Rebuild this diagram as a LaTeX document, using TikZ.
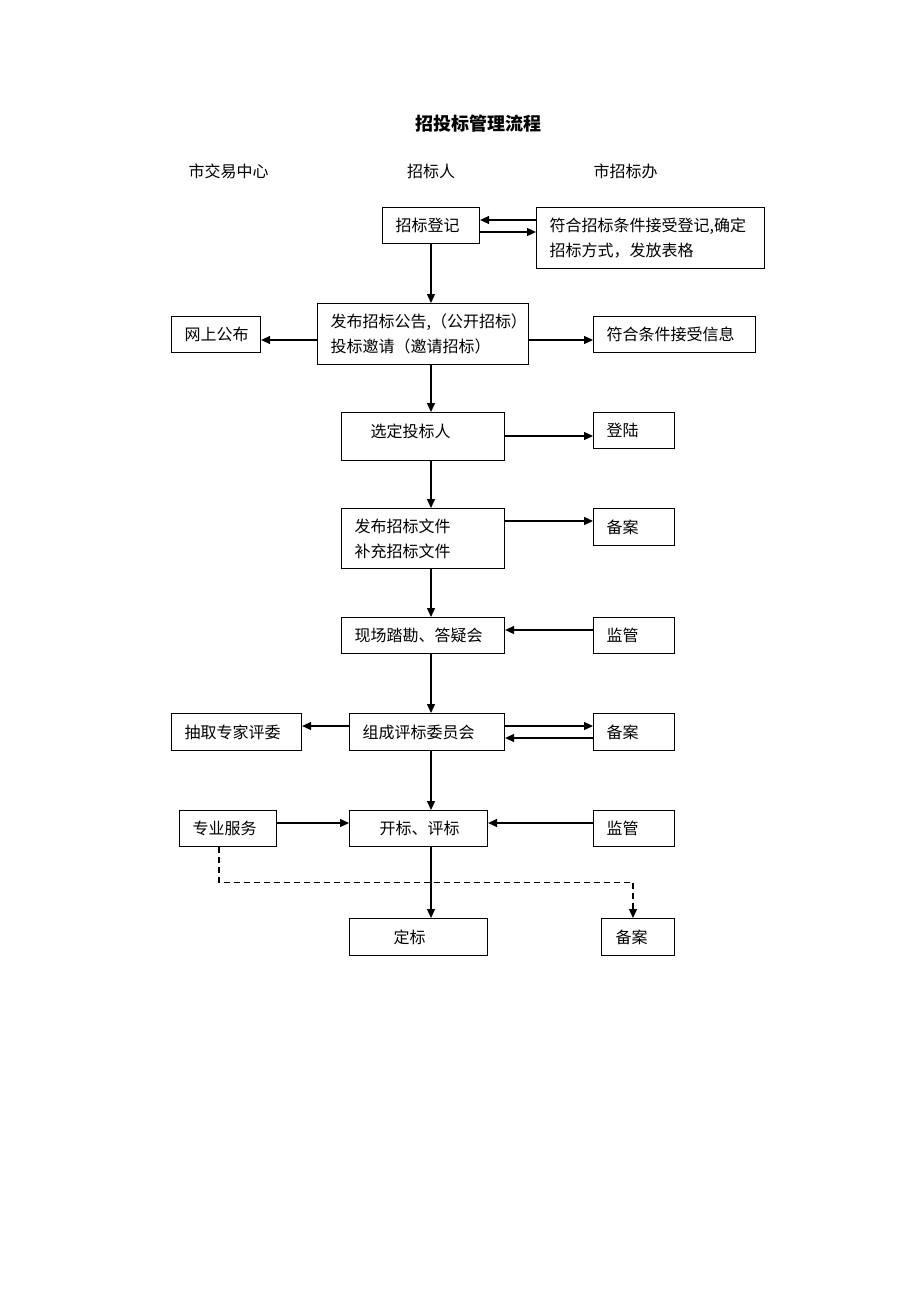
\documentclass[tikz,border=0pt]{standalone}
\usepackage{fontspec}
\setmainfont{Noto Sans CJK SC}
\usetikzlibrary{arrows.meta}
\newcommand\flowbox[7]{%
  \pgfmathsetmacro\fbtw{#4-2*#6}%
  \node[box, minimum height=#5pt, inner xsep=#6pt, text width=\fbtw pt] (#1) at (#2,#3) {#7};}
\begin{document}
\begin{tikzpicture}[x=1pt,y=-1pt,
  box/.style={draw, line width=1.1pt, anchor=north west, align=left, inner ysep=0pt,
              font=\fontsize{16}{25}\selectfont},
  arr/.style={line width=1.3pt, -{Triangle[length=9pt,width=8pt]}},
  arrd/.style={arr, dash pattern=on 6pt off 4pt},
  hdr/.style={font=\fontsize{16}{20}\selectfont, inner sep=0pt},
  ttl/.style={font=\fontsize{18}{22}\selectfont\bfseries, inner sep=0pt}]
\fill[white] (0,0) rectangle (920,1302);
\path[use as bounding box] (0,0) rectangle (920,1302);

% title and column headers
\node[ttl] (title) at (478.5,124) {招投标管理流程};
\node[hdr] (h1) at (228.5,171.5) {市交易中心};
\node[hdr] (h2) at (431,171.5) {招标人};
\node[hdr] (h3) at (625.5,171.5) {市招标办};

% boxes: name, x, y, width, height, pad, text
\flowbox{A}{382}{207}{97}{36}{13}{招标登记}
\flowbox{B}{536}{207}{228}{61}{13}{符合招标条件接受登记,确定\\招标方式，发放表格}
\flowbox{C}{317}{303}{211}{61}{13}{发布招标公告,（公开招标）\\投标邀请（邀请招标）}
\flowbox{D}{171}{316}{89}{36}{13}{网上公布}
\flowbox{E}{593}{316}{162}{36}{13}{符合条件接受信息}
\node[box, minimum height=48pt, inner xsep=29pt, text width=105pt,
      text height=12pt, text depth=10pt] (F) at (341,412) {选定投标人};
\flowbox{G}{593}{412}{81}{36}{13}{登陆}
\flowbox{H}{341}{508}{163}{60}{13}{发布招标文件\\补充招标文件}
\flowbox{I}{593}{508}{81}{37}{13}{备案}
\flowbox{J}{341}{617}{163}{36}{13}{现场踏勘、答疑会}
\flowbox{K}{593}{617}{81}{36}{13}{监管}
\flowbox{L}{349}{713}{155}{37}{13}{组成评标委员会}
\flowbox{M}{171}{713}{130}{37}{13}{抽取专家评委}
\flowbox{N}{593}{713}{81}{37}{13}{备案}
\flowbox{O}{349}{810}{138}{36}{30}{开标、评标}
\flowbox{P}{179}{810}{97}{36}{13}{专业服务}
\flowbox{Q}{593}{810}{81}{36}{13}{监管}
\flowbox{R}{349}{918}{138}{37}{44}{定标}
\flowbox{S}{601}{918}{73}{37}{14}{备案}

\coordinate (col) at (431,0);
\coordinate (dcorner) at (633,882.5);

% main vertical flow
\draw[arr] (A.south -| col) -- (C.north -| col);
\draw[arr] (C.south -| col) -- (F.north -| col);
\draw[arr] (F.south -| col) -- (H.north -| col);
\draw[arr] (H.south -| col) -- (J.north -| col);
\draw[arr] (J.south -| col) -- (L.north -| col);
\draw[arr] (L.south -| col) -- (O.north -| col);
\draw[arr] (O.south -| col) -- (R.north -| col);

% side connectors
\draw[arr] (B.west |- 0,220) -- (A.east |- 0,220);
\draw[arr] (A.east |- 0,232) -- (B.west |- 0,232);
\draw[arr] (C.west |- 0,340) -- (D.east |- 0,340);
\draw[arr] (C.east |- 0,340) -- (E.west |- 0,340);
\draw[arr] (F.east |- 0,436) -- (G.west |- 0,436);
\draw[arr] (H.east |- 0,521) -- (I.west |- 0,521);
\draw[arr] (K.west |- 0,630) -- (J.east |- 0,630);
\draw[arr] (L.west |- 0,726) -- (M.east |- 0,726);
\draw[arr] (L.east |- 0,726) -- (N.west |- 0,726);
\draw[arr] (N.west |- 0,738) -- (L.east |- 0,738);
\draw[arr] (P.east |- 0,823) -- (O.west |- 0,823);
\draw[arr] (Q.west |- 0,823) -- (O.east |- 0,823);

% dashed connector
\draw[arrd] (P.south -| 219,0) |- (dcorner) -- (S.north -| dcorner);
\end{tikzpicture}
\end{document}
